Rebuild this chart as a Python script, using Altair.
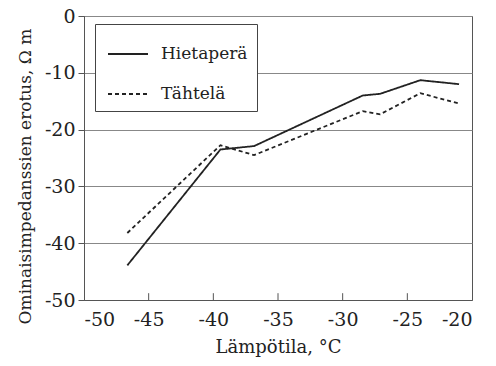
import altair as alt
import pandas as pd

temps = [-46.65, -39.45, -36.85, -28.45, -27.1, -24.0, -21.0]
hietapera = [-43.9, -23.5, -22.9, -14.0, -13.7, -11.3, -12.0]
tahtela = [-38.2, -22.75, -24.5, -16.75, -17.3, -13.6, -15.4]
series_names = ["Hietaperä", "Tähtelä"]
x_ticks = [-50, -45, -40, -35, -30, -25, -20]
y_ticks = [-50, -40, -30, -20, -10, 0]

rows = []
for t, h, k in zip(temps, hietapera, tahtela):
    rows.append({"T": t, "R": h, "s": series_names[0]})
    rows.append({"T": t, "R": k, "s": series_names[1]})
df = pd.DataFrame(rows)

FONT = "DejaVu Serif"
LBL = "'' + datum.value"
xs = alt.Scale(domain=[-50, -20], nice=False, zero=False)
ys = alt.Scale(domain=[-50, 0], nice=False, zero=False)

lines = alt.Chart(df).mark_line(strokeWidth=1.8, color="#222").encode(
    x=alt.X("T:Q", scale=xs, title="Lämpötila, °C",
            axis=alt.Axis(values=x_ticks, grid=False, tickSize=0, labelPadding=10,
                          titlePadding=9, titleFontSize=18, domainColor="#555",
                          labelExpr=LBL)),
    y=alt.Y("R:Q", scale=ys, title="Ominaisimpedanssien erotus, Ω m",
            axis=alt.Axis(values=y_ticks, grid=True, gridColor="#888", tickSize=6,
                          tickColor="#555", labelPadding=3, titlePadding=10,
                          titleFontSize=17, titleY=160, domainColor="#555",
                          labelExpr=LBL)),
    strokeDash=alt.StrokeDash("s:N", title=None,
        scale=alt.Scale(domain=series_names, range=[[1, 0], [4, 3]]),
        legend=alt.Legend(orient="none", legendX=11, legendY=8,
                          symbolType="stroke", symbolSize=1600, symbolStrokeWidth=1.8,
                          symbolStrokeColor="#222", symbolOffset=3,
                          labelFontSize=17, labelFont=FONT,
                          labelColor="#222", labelOffset=12, rowPadding=11,
                          padding=9, fillColor="white", strokeColor="#444",
                          labelLimit=300)),
)

tick_df = pd.DataFrame({"x": x_ticks[1:-1], "y": [-50] * 5, "y2": [-48.8] * 5})
xticks = alt.Chart(tick_df).mark_rule(color="#555", strokeWidth=1).encode(
    x=alt.X("x:Q", scale=xs), y=alt.Y("y:Q", scale=ys), y2="y2:Q")

chart = alt.layer(lines, xticks).properties(
    width=388, height=284,
    padding={"left": 84, "top": 16, "right": 24, "bottom": 66},
    autosize=alt.AutoSizeParams(type="none"),
).configure_view(stroke="#555", strokeWidth=1).configure_axis(
    labelFont=FONT, titleFont=FONT, labelFontSize=19, titleFontSize=19,
    labelColor="#222", titleColor="#222", titleFontWeight="normal"
)

chart.save("out.html", embed_options={"renderer": "svg", "actions": False})
